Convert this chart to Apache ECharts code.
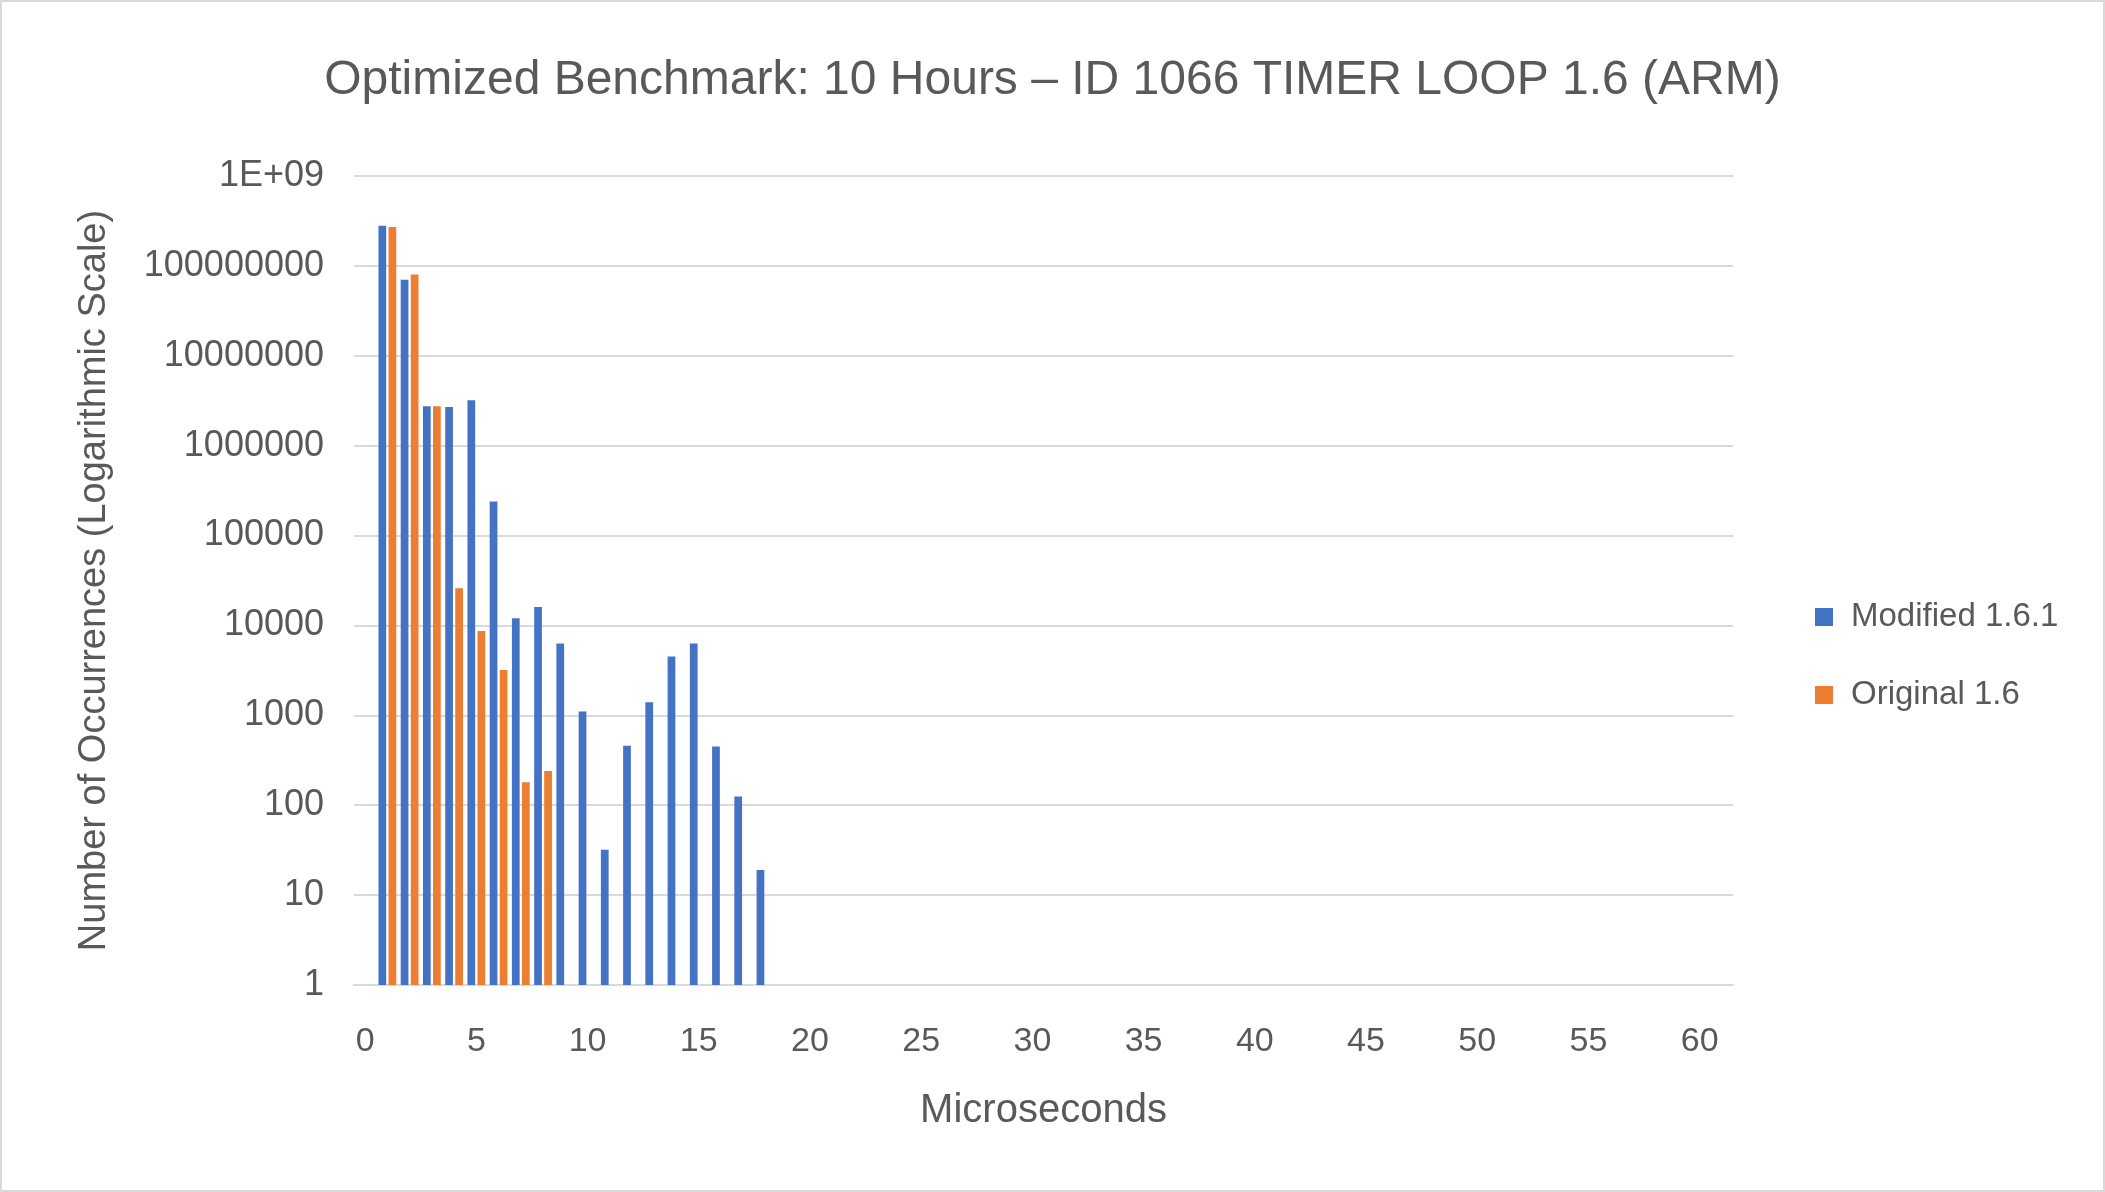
<!DOCTYPE html>
<html>
<head>
<meta charset="utf-8">
<script src="https://cdn.jsdelivr.net/npm/echarts@6/dist/echarts.min.js"></script>
<style>
  html, body { margin: 0; padding: 0; background: #ffffff; }
  #chart { width: 2105px; height: 1192px; box-sizing: border-box; border: 2px solid #d9d9d9; }
</style>
</head>
<body>
<div id="chart"></div>
<script>
// ---- data ----
var titleText = 'Optimized Benchmark: 10 Hours \u2013 ID 1066 TIMER LOOP 1.6 (ARM)';
var xAxisTitle = 'Microseconds';
var yAxisTitle = 'Number of Occurrences (Logarithmic Scale)';
var seriesNames = ['Modified 1.6.1', 'Original 1.6'];

var categories = ['0','1','2','3','4','5','6','7','8','9','10','11','12','13','14','15','16','17','18','19',
  '20','21','22','23','24','25','26','27','28','29','30','31','32','33','34','35','36','37','38','39',
  '40','41','42','43','44','45','46','47','48','49','50','51','52','53','54','55','56','57','58','59',
  '60','61'];

var blueValues = [null, 280000000, 70000000, 2750000, 2700000, 3200000, 240000, 12000, 16000, 6300,
  1100, 32, 460, 1400, 4500, 6300, 450, 125, 19, null,
  null, null, null, null, null, null, null, null, null, null,
  null, null, null, null, null, null, null, null, null, null,
  null, null, null, null, null, null, null, null, null, null,
  null, null, null, null, null, null, null, null, null, null,
  null, null];

var orangeValues = [null, 270000000, 80000000, 2750000, 26000, 8700, 3200, 180, 240, null,
  null, null, null, null, null, null, null, null, null, null,
  null, null, null, null, null, null, null, null, null, null,
  null, null, null, null, null, null, null, null, null, null,
  null, null, null, null, null, null, null, null, null, null,
  null, null, null, null, null, null, null, null, null, null,
  null, null];

var yTickLabels = {1: '1', 10: '10', 100: '100', 1000: '1000', 10000: '10000', 100000: '100000',
  1000000: '1000000', 10000000: '10000000', 100000000: '100000000', 1000000000: '1E+09'};

// ---- chart ----
var chart = echarts.init(document.getElementById('chart'));
var textColor = '#595959';
var fontFam = '"Liberation Sans", Arial, sans-serif';

chart.setOption({
  backgroundColor: '#ffffff',
  animation: false,
  title: {
    text: titleText,
    left: 'center',
    top: 50,
    textStyle: { color: textColor, fontSize: 48, fontWeight: 'normal', fontFamily: fontFam }
  },
  legend: {
    orient: 'vertical',
    left: 1808,
    top: 590,
    itemWidth: 18,
    itemHeight: 18,
    itemGap: 38,
    icon: 'rect',
    textStyle: { color: textColor, fontSize: 33, fontFamily: fontFam, lineHeight: 40, padding: [0, 0, 0, 13] },
    data: seriesNames
  },
  grid: { left: 352, right: 370, top: 174, bottom: 205, containLabel: false },
  xAxis: {
    type: 'category',
    data: categories,
    name: xAxisTitle,
    nameLocation: 'middle',
    nameGap: 106,
    nameTextStyle: { color: textColor, fontSize: 40, fontFamily: fontFam },
    axisLine: { show: true, lineStyle: { color: '#d9d9d9', width: 2 } },
    axisTick: { show: false },
    axisLabel: { interval: 4, color: textColor, fontSize: 34, fontFamily: fontFam, margin: 40 },
    splitLine: { show: false }
  },
  yAxis: {
    type: 'log',
    logBase: 10,
    min: 1,
    max: 1000000000,
    interval: 1,
    name: yAxisTitle,
    nameLocation: 'middle',
    nameGap: 240,
    nameRotate: 90,
    nameTextStyle: { color: textColor, fontSize: 38, fontFamily: fontFam },
    axisLine: { show: false },
    axisTick: { show: false },
    axisLabel: {
      color: textColor, fontSize: 36, fontFamily: fontFam, margin: 30,
      formatter: function (v) {
        var r = Math.round(v);
        return yTickLabels[r] !== undefined ? yTickLabels[r] : String(r);
      }
    },
    splitLine: { show: true, lineStyle: { color: '#d9d9d9', width: 2 } }
  },
  series: [
    { name: seriesNames[0], type: 'bar', data: blueValues, itemStyle: { color: '#4472C4' }, barGap: '30%', barCategoryGap: '20%' },
    { name: seriesNames[1], type: 'bar', data: orangeValues, itemStyle: { color: '#ED7D31' } }
  ]
});
</script>
</body>
</html>
